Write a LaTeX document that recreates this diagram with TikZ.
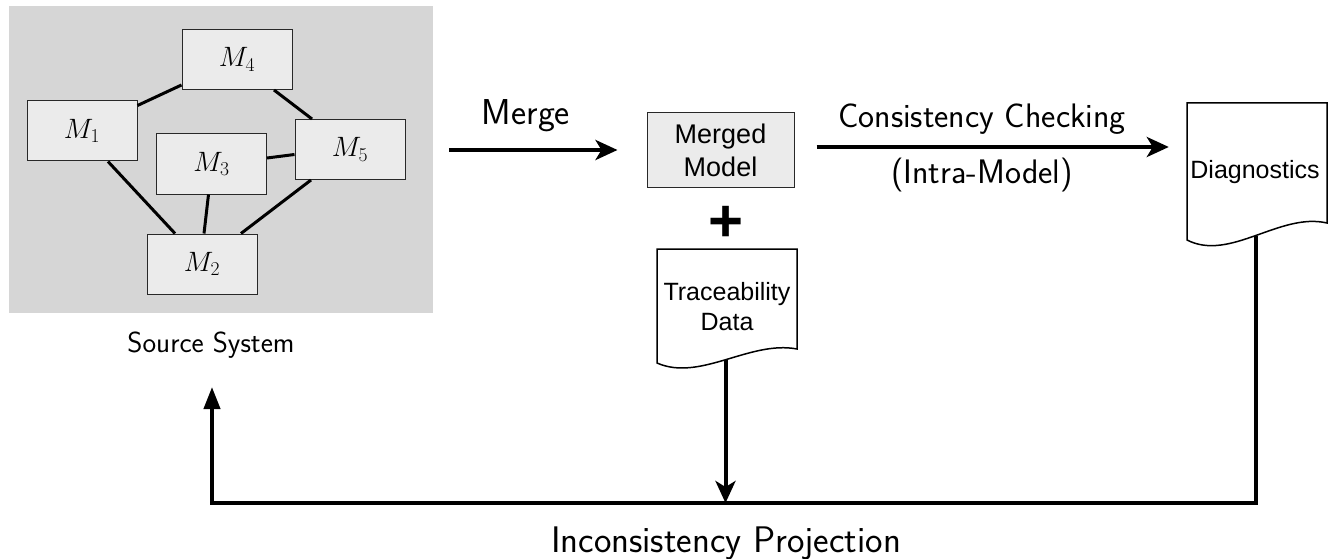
\RequirePackage{fix-cm}
\documentclass[tikz,border=0pt]{standalone}
\usepackage{fontspec}
\newfontfamily\arial{Liberation Sans}
\usetikzlibrary{arrows.meta,calc}

\definecolor{panelgray}{RGB}{214,214,214}
\definecolor{boxgray}{RGB}{235,235,235}
\definecolor{edgegray}{RGB}{40,40,40}

\begin{document}
\begin{tikzpicture}[x=1pt,y=-1pt,
  mbox/.style={draw=edgegray, line width=1pt, fill=boxgray,
    minimum width=110pt, minimum height=60pt, inner sep=0pt,
    font=\fontsize{28}{30}\selectfont},
  link/.style={line width=3pt},
  flow/.style={line width=4pt},
  tipS/.style={-{Stealth[length=22pt,width=20pt,inset=6pt]}},
  tipT/.style={-{Triangle[length=22pt,width=16pt]}},
  lbl/.style={font=\sffamily\fontsize{34}{40}\selectfont, anchor=base, inner sep=0pt},
  doctext/.style={font=\arial\fontsize{25}{30}\selectfont, align=center, inner sep=0pt},
  docline/.style={draw=black, line width=1.5pt, fill=white}
]
\useasboundingbox (0,0) rectangle (1331,559);

% source system panel with its five models
\node[fill=panelgray, minimum width=424pt, minimum height=307pt, inner sep=0pt,
      anchor=north west] (panel) at (9,6) {};

\node[mbox] (m1) at (82,131)    {$M_1$};
\node[mbox] (m2) at (202,264)   {$M_2$};
\node[mbox] (m3) at (211.5,164) {$M_3$};
\node[mbox] (m4) at (237,59.5)  {$M_4$};
\node[mbox] (m5) at (350,149.5) {$M_5$};

\draw[link] ($(m1.north east)+(0,5)$) -- ($(m4.south west)+(0,-5)$);
\draw[link] ($(m4.south)+(37,0)$)     -- ($(m5.north)+(-38,0)$);
\draw[link] ($(m3.east)+(0,-6)$)      -- ($(m5.west)+(0,5)$);
\draw[link] ($(m1.south)+(26,0)$)     -- ($(m2.north)+(-27,0)$);
\draw[link] ($(m3.south)+(-3,0)$)     -- ($(m2.north)+(2,0)$);
\draw[link] ($(m5.south)+(-39,0)$)    -- ($(m2.north)+(39,0)$);

\node[font=\sffamily\fontsize{29}{34}\selectfont, anchor=base, inner sep=0pt]
  (srclbl) at (211,352) {Source System};

% merged model
\node[draw=edgegray, line width=1pt, fill=boxgray, minimum width=147pt,
      minimum height=74pt, doctext, font=\arial\fontsize{27}{33}\selectfont]
  (merged) at (720.5,150) {Merged\\Model};

\draw[flow,tipS] ($(panel.east |- merged.west)+(16,0)$) -- ($(merged.west)+(-29,0)$);
\node[lbl, font=\sffamily\fontsize{36}{40}\selectfont] (mergelbl) at (526,125) {Merge};

% plus sign
\node[font=\arial\bfseries\fontsize{60}{60}\selectfont, inner sep=0pt]
  (plus) at (726,224) {+};

% traceability data document
\draw[docline] (797,349) -- (797,249) -- (657,249) -- (657,363)
  .. controls (700,382) and (750,340) .. (797,349) coordinate[pos=0.5] (tbot) -- cycle;
\node[doctext] (trace) at (727,307) {Traceability\\Data};

% diagnostics document
\draw[docline] (1327,223) -- (1327,103) -- (1187,103) -- (1187,240)
  .. controls (1230,262) and (1280,212) .. (1327,223) coordinate[pos=0.5] (dbot) -- cycle;
\node[minimum width=140pt, minimum height=120pt, inner sep=0pt] (diag) at (1257,163) {};
\node[doctext] (diaglbl) at (1255,172) {Diagnostics};

% consistency checking
\draw[flow,tipS] ($(merged.east)+(22,-3)$) -- ($(diag.west |- merged.east)+(-18,-3)$);
\node[lbl] (cclbl) at (982,128) {Consistency Checking};
\node[lbl] (intralbl) at (982,183) {(Intra-Model)};

% projection back to the source system
\coordinate (base) at (212,503);
\coordinate (back) at (212,387);
\draw[flow,tipT] (dbot) |- (base) -- (back);
\draw[flow,tipS] (tbot) -- (tbot |- base);
\node[font=\sffamily\fontsize{37}{42}\selectfont, anchor=base, inner sep=0pt]
  (projlbl) at (726,552) {Inconsistency Projection};
\end{tikzpicture}
\end{document}
